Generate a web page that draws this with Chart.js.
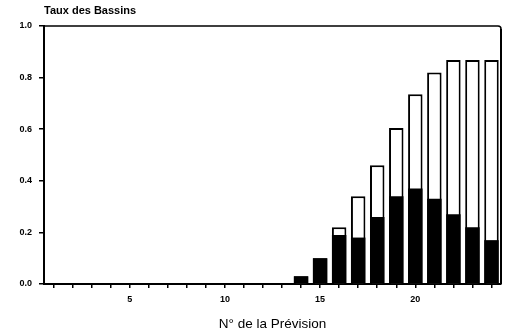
<!DOCTYPE html>
<html>
<head>
<meta charset="utf-8">
<script src="https://cdn.jsdelivr.net/npm/chart.js@4"></script>
<style>
  html, body { margin: 0; padding: 0; background: #fff; }
  #wrap { width: 508px; height: 335px; }
</style>
</head>
<body>
<div id="wrap"><canvas id="chart" width="508" height="335"></canvas></div>
<script>
'use strict';

// forecast numbers 1..24
const categories = ['1','2','3','4','5','6','7','8','9','10','11','12','13','14','15','16','17','18','19','20','21','22','23','24'];
// total height of each bar (white outline)
const totalValues = [null,null,null,null,null,null,null,null,null,null,null,null,null,0.03,0.10,0.22,0.34,0.46,0.605,0.735,0.82,0.868,0.868,0.868];
// black filled part
const blackValues = [null,null,null,null,null,null,null,null,null,null,null,null,null,0.03,0.10,0.19,0.18,0.26,0.34,0.37,0.33,0.27,0.22,0.17];
const yTickLabels = ['0.0','0.2','0.4','0.6','0.8','1.0'];
const xTickLabels = {5: '5', 10: '10', 15: '15', 20: '20'};

const chartTitle = 'Taux des Bassins';
const xTitle = 'N\u00b0 de la Pr\u00e9vision';

// frame on top/right + title text
const framePlugin = {
  id: 'frame',
  afterDraw(chart) {
    const { ctx, chartArea } = chart;
    ctx.save();
    ctx.strokeStyle = '#000';
    ctx.lineWidth = 1.5;
    ctx.beginPath();
    ctx.moveTo(chartArea.left, chartArea.top);
    ctx.lineTo(chartArea.right - 3, chartArea.top);
    ctx.quadraticCurveTo(chartArea.right, chartArea.top, chartArea.right, chartArea.top + 3);
    ctx.stroke();
    ctx.lineWidth = 2;
    ctx.beginPath();
    ctx.moveTo(chartArea.right, chartArea.top + 3);
    ctx.lineTo(chartArea.right, chartArea.bottom);
    ctx.stroke();
    ctx.fillStyle = '#000';
    ctx.font = 'bold 11px "Liberation Sans", Arial, sans-serif';
    ctx.textBaseline = 'middle';
    ctx.textAlign = 'left';
    ctx.fillText(chartTitle, chartArea.left, 11);
    ctx.restore();
  }
};

const ctx = document.getElementById('chart');

let config = {
  type: 'bar',
  data: {
    labels: categories,
    datasets: [
      {
        label: 'noir',
        data: blackValues,
        backgroundColor: '#000',
        borderColor: '#000',
        borderWidth: 0,
        grouped: false,
        barPercentage: 0.76,
        categoryPercentage: 1
      },
      {
        label: 'total',
        data: totalValues,
        backgroundColor: '#fff',
        borderColor: '#000',
        borderWidth: 2,
        grouped: false,
        barPercentage: 0.76,
        categoryPercentage: 1
      }
    ]
  },
  options: {
    responsive: false,
    animation: false,
    layout: { padding: { top: 26, right: 7, left: 0, bottom: 3 } },
    plugins: {
      legend: { display: false },
      tooltip: { enabled: false }
    },
    scales: {
      x: {
        offset: true,
        border: { display: true, color: '#000', width: 2 },
        grid: { display: true, drawOnChartArea: false, drawTicks: true, tickLength: 4, color: '#000', lineWidth: 1.5, offset: false },
        ticks: {
          autoSkip: false,
          maxRotation: 0,
          color: '#000',
          padding: 6,
          font: { family: '"Liberation Sans", Arial, sans-serif', size: 9, weight: 'bold' },
          callback: function (value) {
            const n = Number(this.getLabelForValue(value));
            return xTickLabels[n] || '';
          }
        },
        title: {
          display: true,
          text: xTitle,
          color: '#000',
          padding: { top: 4, bottom: 0 },
          font: { family: '"Liberation Sans", Arial, sans-serif', size: 13.5 }
        },
        afterFit(scale) { scale.height = 48; }
      },
      y: {
        min: 0,
        max: 1,
        border: { display: true, color: '#000', width: 2 },
        grid: { display: true, drawOnChartArea: false, drawTicks: true, tickLength: 5, color: '#000', lineWidth: 1.5 },
        ticks: {
          stepSize: 0.2,
          color: '#000',
          padding: 7,
          font: { family: '"Liberation Sans", Arial, sans-serif', size: 9, weight: 'bold' },
          callback: function (value) {
            return yTickLabels[Math.round(value * 5)];
          }
        },
        afterFit(scale) { scale.width = 44; }
      }
    }
  },
  plugins: [framePlugin]
};

new Chart(ctx, config);
</script>
</body>
</html>
